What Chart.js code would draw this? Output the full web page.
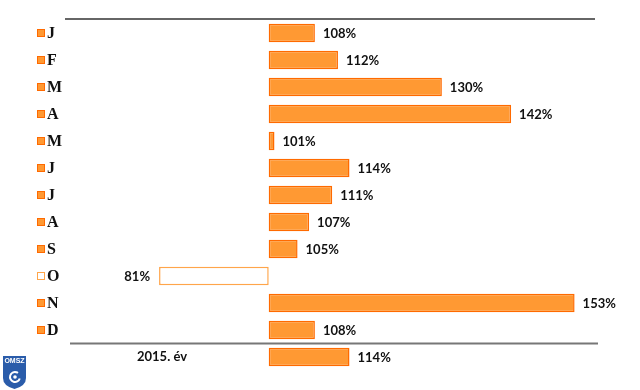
<!DOCTYPE html>
<html>
<head>
<meta charset="utf-8">
<script src="https://cdn.jsdelivr.net/npm/chart.js@4"></script>
<style>
  html, body { margin: 0; padding: 0; background: #fff; }
  #wrap { width: 640px; height: 390px; position: relative; }
</style>
</head>
<body>
<div id="wrap"><canvas id="chart" width="640" height="390"></canvas></div>
<script>
// havi csapadek a sokeves atlag szazalekaban
const months = ['J', 'F', 'M', 'A', 'M', 'J', 'J', 'A', 'S', 'O', 'N', 'D'];
const monthValues = [108, 112, 130, 142, 101, 114, 111, 107, 105, 81, 153, 108];
const yearLabel = '2015. év';
const yearValue = 114;
const baseline = 100;

const categories = months.concat([yearLabel]);
const values = monthValues.concat([yearValue]);

const orange = '#ff9933';
const orangeLine = '#ff6a00';
const paleLine = '#ffa54a';

// sajat rajzolas: feliratok, vonalak, logo
const decor = {
  id: 'decor',
  afterDatasetsDraw(chart) {
    const ctx = chart.ctx;
    const y = chart.scales.y;
    const x = chart.scales.x;
    ctx.save();

    // felso vonal
    ctx.strokeStyle = '#333';
    ctx.lineWidth = 1.5;
    ctx.beginPath();
    ctx.moveTo(65, 19);
    ctx.lineTo(595, 19);
    ctx.stroke();

    // also vonal (honapok es ev kozott)
    const lineY = (y.getPixelForValue(11) + y.getPixelForValue(12)) / 2;
    ctx.strokeStyle = '#777';
    ctx.lineWidth = 2;
    ctx.beginPath();
    ctx.moveTo(70, lineY);
    ctx.lineTo(598, lineY);
    ctx.stroke();

    // honap feliratok + kis negyzetek
    months.forEach((m, i) => {
      const py = y.getPixelForValue(i);
      const low = monthValues[i] < baseline;
      ctx.fillStyle = low ? '#fff' : orange;
      ctx.strokeStyle = low ? paleLine : orangeLine;
      ctx.lineWidth = 1;
      ctx.fillRect(37.5, py - 3.5, 7, 7);
      ctx.strokeRect(37.5, py - 3.5, 7, 7);
      ctx.fillStyle = '#111';
      ctx.font = 'bold 16px "Liberation Serif", "DejaVu Serif", serif';
      ctx.textAlign = 'left';
      ctx.textBaseline = 'middle';
      ctx.fillText(m, 47, py + 1);
    });

    // ev felirat
    ctx.font = 'bold 13px Lato, "Liberation Sans", sans-serif';
    ctx.textAlign = 'center';
    ctx.fillStyle = '#111';
    ctx.fillText(yearLabel, 162, y.getPixelForValue(12));

    // ertek feliratok
    values.forEach((v, i) => {
      const py = y.getPixelForValue(i);
      const px = x.getPixelForValue(v);
      ctx.font = 'bold 13px Lato, "Liberation Sans", sans-serif';
      ctx.fillStyle = '#111';
      if (v >= baseline) {
        ctx.textAlign = 'left';
        ctx.fillText(v + '%', px + 8, py + 1);
      } else {
        ctx.textAlign = 'right';
        ctx.fillText(v + '%', px - 9, py + 1);
      }
    });

    // OMSZ logo (egyszerusitve)
    ctx.fillStyle = '#2a5caa';
    ctx.beginPath();
    ctx.moveTo(3, 356);
    ctx.lineTo(26, 356);
    ctx.lineTo(26, 378);
    ctx.quadraticCurveTo(26, 386, 14.5, 389);
    ctx.quadraticCurveTo(3, 386, 3, 378);
    ctx.closePath();
    ctx.fill();
    ctx.fillStyle = '#fff';
    ctx.font = 'bold 7px "Liberation Sans", sans-serif';
    ctx.textAlign = 'center';
    ctx.fillText('OMSZ', 14.5, 361);
    ctx.strokeStyle = '#fff';
    ctx.lineWidth = 2;
    ctx.beginPath();
    ctx.arc(15, 377, 5, 0.3, Math.PI * 1.7);
    ctx.stroke();
    ctx.beginPath();
    ctx.arc(15, 377, 1.8, 0, Math.PI * 2);
    ctx.fill();

    ctx.restore();
  }
};

new Chart(document.getElementById('chart'), {
  type: 'bar',
  data: {
    labels: categories,
    datasets: [{
      data: values.map(v => [baseline, v]),
      backgroundColor: values.map(v => v < baseline ? '#fff' : orange),
      borderColor: values.map(v => v < baseline ? paleLine : orangeLine),
      borderWidth: 1.5,
      borderSkipped: false,
      barPercentage: 0.68,
      categoryPercentage: 1
    }]
  },
  options: {
    indexAxis: 'y',
    responsive: false,
    animation: false,
    layout: { padding: { left: 9, right: 25, top: 19.5, bottom: 19.5 } },
    plugins: { legend: { display: false }, tooltip: { enabled: false } },
    scales: {
      x: { display: false, min: 55, max: 160 },
      y: { display: false }
    }
  },
  plugins: [decor]
});
</script>
</body>
</html>
